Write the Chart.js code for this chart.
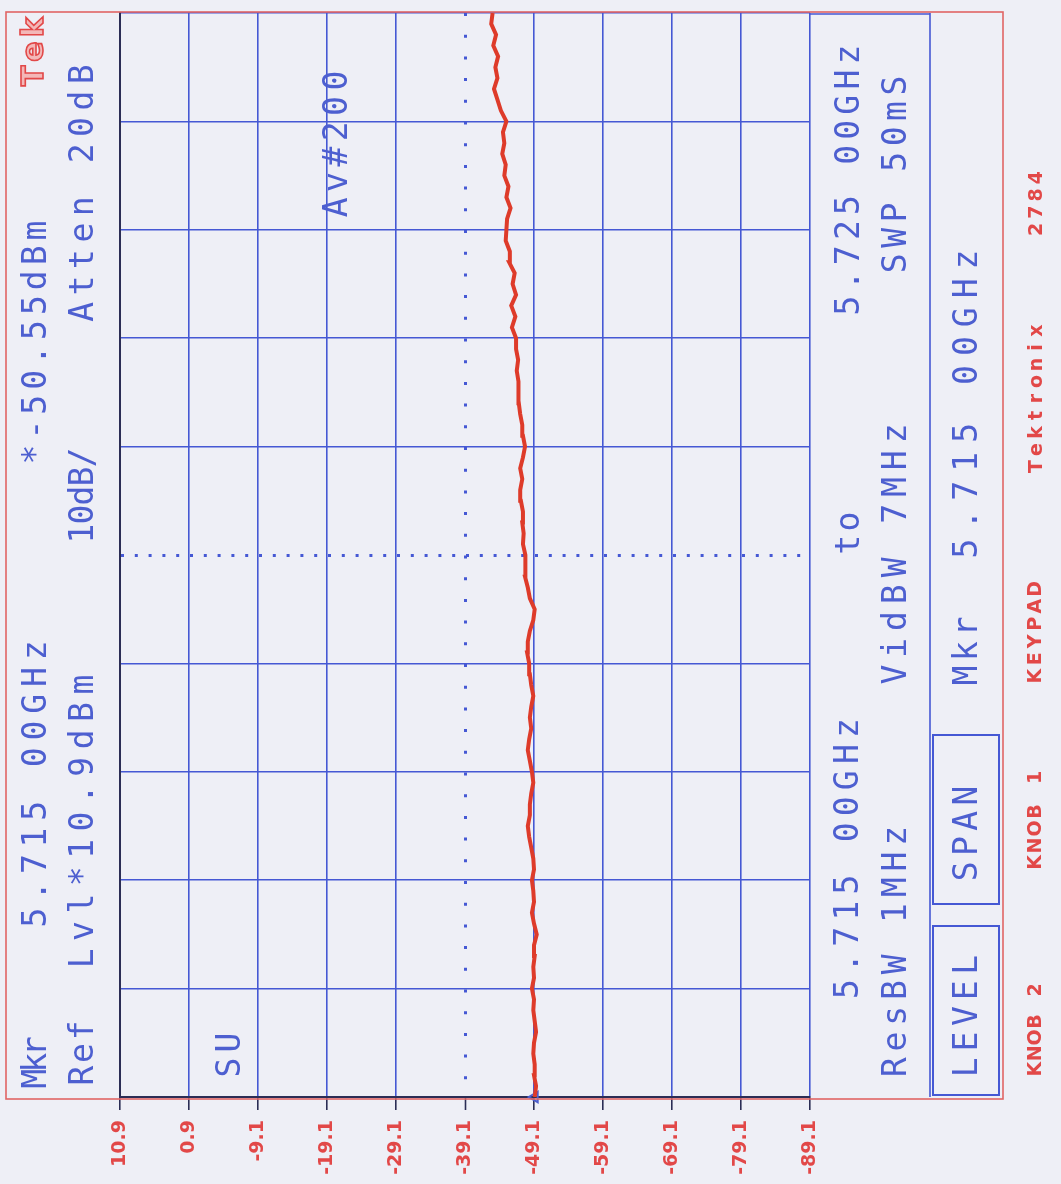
<!DOCTYPE html>
<html><head><meta charset="utf-8">
<script src="https://cdn.jsdelivr.net/npm/chart.js@4.4.1/dist/chart.umd.min.js"></script>
<style>html,body{margin:0;padding:0;background:#eeeff6;}canvas{display:block;}</style>
</head><body>
<canvas id="c" width="1061" height="1184"></canvas>
<script>
// ---- data ----
const freqGHz = [
5.7150,5.7151,5.7152,5.7153,5.7154,5.7155,5.7156,5.7157,5.7158,5.7159,
5.7160,5.7161,5.7162,5.7163,5.7164,5.7165,5.7166,5.7167,5.7168,5.7169,
5.7170,5.7171,5.7172,5.7173,5.7174,5.7175,5.7176,5.7177,5.7178,5.7179,
5.7180,5.7181,5.7182,5.7183,5.7184,5.7185,5.7186,5.7187,5.7188,5.7189,
5.7190,5.7191,5.7192,5.7193,5.7194,5.7195,5.7196,5.7197,5.7198,5.7199,
5.7200,5.7201,5.7202,5.7203,5.7204,5.7205,5.7206,5.7207,5.7208,5.7209,
5.7210,5.7211,5.7212,5.7213,5.7214,5.7215,5.7216,5.7217,5.7218,5.7219,
5.7220,5.7221,5.7222,5.7223,5.7224,5.7225,5.7226,5.7227,5.7228,5.7229,
5.7230,5.7231,5.7232,5.7233,5.7234,5.7235,5.7236,5.7237,5.7238,5.7239,
5.7240,5.7241,5.7242,5.7243,5.7244,5.7245,5.7246,5.7247,5.7248,5.7249,
5.7250];
const levelDbm = [
-49.2,-49.4,-49.1,-49.2,-49.0,-49.1,-49.4,-49.2,-49.0,-49.1,
-48.8,-49.1,-49.0,-49.2,-49.1,-49.5,-49.1,-48.8,-49.1,-49.0,
-48.8,-49.1,-49.0,-48.7,-48.4,-48.2,-48.5,-48.5,-48.7,-49.0,
-48.8,-48.5,-48.2,-48.4,-48.7,-48.5,-48.7,-49.0,-48.7,-48.5,
-48.4,-48.1,-48.2,-48.5,-49.0,-49.2,-48.5,-48.2,-47.8,-47.9,
-47.8,-47.5,-47.6,-47.4,-47.5,-47.2,-47.1,-47.4,-47.1,-47.5,
-47.8,-47.5,-47.4,-47.1,-46.9,-46.8,-46.9,-46.6,-46.8,-46.5,
-46.5,-45.9,-46.4,-45.8,-46.5,-46.0,-46.3,-45.5,-45.6,-45.0,
-45.1,-45.2,-45.7,-45.1,-45.4,-44.8,-45.0,-44.5,-44.8,-44.6,
-45.1,-44.3,-43.8,-43.3,-43.8,-43.5,-43.9,-43.2,-43.6,-42.9,
-43.1];
const ampTicks = [10.9, 0.9, -9.1, -19.1, -29.1, -39.1, -49.1, -59.1, -69.1, -79.1, -89.1];
const ampTickLabels = ['10.9','0.9','-9.1','-19.1','-29.1','-39.1','-49.1','-59.1','-69.1','-79.1','-89.1'];
const freqTicks = [5.715,5.716,5.717,5.718,5.719,5.720,5.721,5.722,5.723,5.724,5.725];
const centerAmp = -39.1, centerFreq = 5.720;
const markerFreq = [5.715];
const markerLevel = [-49.2];

// ---- screen text (instrument annotations) ----
const blueTexts = [
 ['Mkr',37,1087,1038], ['5.715 00GHz',37,931,637], ['*-50.55dBm',37,467,218],
 ['Ref',84,1087,1019], ['Lvl*10.9dBm',84,972,671], ['10dB/',84,543,448], ['Atten 20dB',84,325,61],
 ['SU',231,1080,1030], ['Av#200',338,220,68],
 ['5.715 00GHz',849,1002,715], ['to',850,556,510], ['5.725 00GHz',850,318,42],
 ['ResBW 1MHz',897,1080,823], ['VidBW 7MHz',897,688,420], ['SWP 50mS',897,276,73],
 ['LEVEL',968,1080,952], ['SPAN',968,884,783], ['Mkr',968,688,614], ['5.715 00GHz',968,563,245]
];
const redTexts = [
 ['KNOB 2',1036,1077,982], ['KNOB 1',1036,871,769], ['KEYPAD',1036,685,580],
 ['Tektronix',1037,475,322], ['2784',1037,238,169]
];

const BG='#eeeff6', GRID='#4558d4', BLUE='#4d5fd0', DARK='#2b2d55', REDF='#e06464', REDT='#e24848', TRACE='#de3b2a';

function drawSpan(ctx, s, x, yb, yt, font, color, stroke) {
  const n = s.length, p = (yb - yt) / n;
  ctx.save(); ctx.font = font; ctx.fillStyle = color; ctx.strokeStyle = color;
  ctx.textAlign = 'center'; ctx.textBaseline = 'middle';
  for (let i = 0; i < n; i++) {
    const ch = s[i]; if (ch === ' ') continue;
    ctx.save(); ctx.translate(x, yb - (i + 0.5) * p); ctx.rotate(-Math.PI / 2);
    if (stroke) { ctx.lineWidth = 1.6; ctx.fillStyle = '#f3b8b8'; ctx.fillText(ch, 0, 0); ctx.strokeText(ch, 0, 0); }
    else ctx.fillText(ch, 0, 0);
    ctx.restore();
  }
  ctx.restore();
}

const overlay = {
  id: 'overlay',
  beforeDraw(chart) {
    const {ctx, width, height} = chart;
    ctx.save(); ctx.fillStyle = BG; ctx.fillRect(0, 0, width, height); ctx.restore();
  },
  afterDraw(chart) {
    const {ctx, chartArea: a} = chart;
    const panelR = a.right + 120;
    ctx.save();
    ctx.strokeStyle = GRID; ctx.lineWidth = 1.6;
    ctx.beginPath();
    ctx.moveTo(a.right, a.top + 1); ctx.lineTo(panelR, a.top + 1);
    ctx.moveTo(panelR, a.top); ctx.lineTo(panelR, a.bottom);
    ctx.stroke();
    ctx.lineWidth = 2;
    ctx.strokeRect(panelR + 3, 735, 66, 169);
    ctx.strokeRect(panelR + 3, 926, 66, 169);
    ctx.strokeStyle = REDF; ctx.lineWidth = 1.6;
    ctx.strokeRect(6, a.top - 1, 997, a.bottom - a.top + 3);
    ctx.restore();
    for (const [t, x, yb, yt] of blueTexts) drawSpan(ctx, t, x, yb, yt, '33px "DejaVu Sans Mono"', BLUE);
    for (const [t, x, yb, yt] of redTexts) drawSpan(ctx, t, x, yb, yt, 'bold 19px "DejaVu Sans"', REDT);
    drawSpan(ctx, 'Tek', 35, 88, 15, 'bold 30px "DejaVu Sans"', REDT, true);
  }
};

const tracePts = freqGHz.map((f, i) => ({x: levelDbm[i], y: f}));
const markerPts = markerFreq.map((f, i) => ({x: markerLevel[i], y: f}));

new Chart(document.getElementById('c'), {
  type: 'line',
  data: { datasets: [
    { data: tracePts, borderColor: TRACE, borderWidth: 4, pointRadius: 0, tension: 0, fill: false },
    { data: markerPts, showLine: false, pointStyle: 'triangle', rotation: -90, pointRadius: 6,
      pointBorderColor: BLUE, pointBackgroundColor: 'rgba(0,0,0,0)', pointBorderWidth: 2, clip: false }
  ]},
  options: {
    indexAxis: 'y', responsive: false, animation: false,
    layout: { padding: { top: 13, right: 251, left: 0, bottom: 0 } },
    plugins: { legend: { display: false }, tooltip: { enabled: false } },
    scales: {
      x: {
        type: 'linear', reverse: true, min: ampTicks[ampTicks.length - 1], max: ampTicks[0],
        afterBuildTicks: s => { s.ticks = ampTicks.map(v => ({value: v})); },
        afterFit: s => { s.height = 87; },
        ticks: { autoSkip: false, minRotation: 90, maxRotation: 90, padding: 10, color: REDT,
          font: { family: 'DejaVu Sans', size: 19, weight: 'bold' },
          callback: (v, i) => ampTickLabels[i] },
        grid: { color: GRID, lineWidth: c => (c.tick && Math.abs(c.tick.value - centerAmp) < 1e-6) ? 3 : 1.6,
          drawTicks: true, tickLength: 13, tickColor: DARK, tickWidth: 1.6 },
        border: { display: true, color: DARK, width: 2,
          dash: c => (c.tick && Math.abs(c.tick.value - centerAmp) < 1e-6) ? [3, 18.7] : [] }
      },
      y: {
        type: 'linear', min: freqTicks[0], max: freqTicks[freqTicks.length - 1],
        afterBuildTicks: s => { s.ticks = freqTicks.map(v => ({value: v})); },
        afterFit: s => { s.width = 120; },
        ticks: { display: false },
        grid: { color: GRID, lineWidth: c => (c.tick && Math.abs(c.tick.value - centerFreq) < 1e-9) ? 3 : 1.6, drawTicks: false },
        border: { display: true, color: DARK, width: 2,
          dash: c => (c.tick && Math.abs(c.tick.value - centerFreq) < 1e-9) ? [3, 10.8] : [] }
      }
    }
  },
  plugins: [overlay]
});
</script>
</body></html>
